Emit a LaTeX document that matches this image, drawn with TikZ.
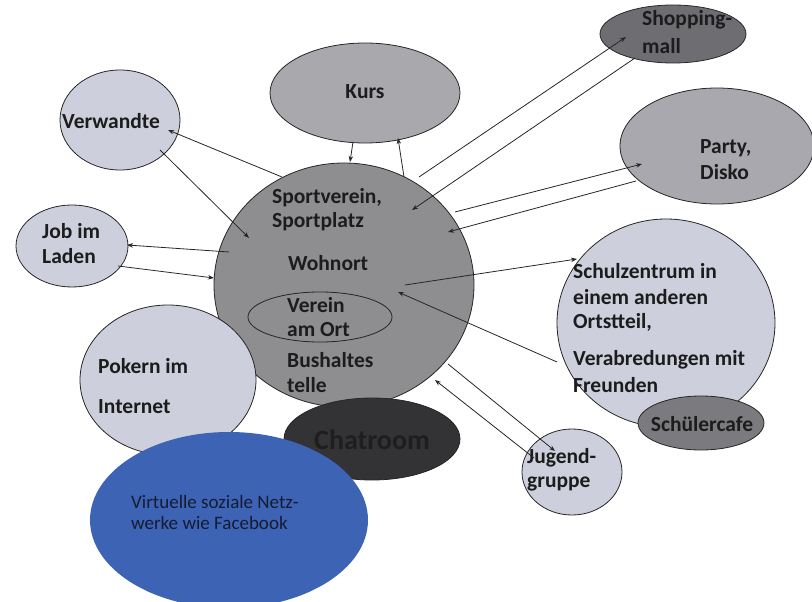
\documentclass[tikz,border=0pt]{standalone}
\usepackage{fontspec}
\setmainfont{Carlito}
\usetikzlibrary{shapes.geometric,arrows.meta}
\definecolor{lightc}{HTML}{CDD0DC}
\definecolor{mainc}{HTML}{8E8E90}
\definecolor{kursc}{HTML}{A9A9AD}
\definecolor{shopc}{HTML}{6E6E72}
\definecolor{partyc}{HTML}{A8A8AE}
\definecolor{cafec}{HTML}{7B7B7F}
\definecolor{chatc}{HTML}{333335}
\definecolor{chattext}{HTML}{1E1E1E}
\definecolor{bluec}{HTML}{3C63B4}
\definecolor{txt}{HTML}{1C1C1C}
\definecolor{navy}{HTML}{161B33}
\begin{document}
\begin{tikzpicture}[x=1pt,y=-1pt,
  blob/.style={ellipse,draw=black!85,line width=0.8pt,inner sep=0pt},
  lbl/.style={anchor=west,inner sep=0pt,text=txt,font=\fontsize{21.5}{24}\selectfont\bfseries},
  clbl/.style={anchor=center,inner sep=0pt,text=txt,font=\fontsize{21.5}{24}\selectfont\bfseries},
  arr/.style={-{Stealth[length=6pt,width=4.5pt]},line width=0.8pt,black!85}]
\useasboundingbox (0,0) rectangle (812,602);
% shapes
\node[blob,fill=kursc,minimum width=190pt,minimum height=100pt] (kurs) at (365,93) {};
\node[blob,fill=shopc,minimum width=146pt,minimum height=58pt] (shop) at (673,34) {};
\node[blob,fill=partyc,minimum width=194pt,minimum height=116pt] (party) at (717,146) {};
\node[blob,fill=lightc,minimum width=120pt,minimum height=100pt] (verw) at (120,120) {};
\node[blob,fill=lightc,minimum width=112pt,minimum height=82pt] (job) at (72,246) {};
\node[blob,fill=mainc,minimum width=260pt,minimum height=244pt] (main) at (344,285) {};
\node[blob,fill=lightc,minimum width=218pt,minimum height=208pt] (schul) at (666,323) {};
\node[blob,fill=cafec,minimum width=126pt,minimum height=54pt] (cafe) at (701,423) {};
\node[blob,fill=lightc,minimum width=100pt,minimum height=86pt] (jugend) at (572,472) {};
\node[blob,fill=lightc,minimum width=176pt,minimum height=150pt] (poker) at (168,380) {};
\node[blob,fill=chatc,minimum width=176pt,minimum height=82pt] (chat) at (372,439) {};
\node[ellipse,fill=bluec,minimum width=278pt,minimum height=176pt,inner sep=0pt] (virt) at (229,520) {};
\node[blob,minimum width=144pt,minimum height=50pt] (verein) at (320,317) {};
% texts
\node[clbl] (tkurs) at (365,92) {Kurs};
\node[lbl] (tshop1) at (642,20) {Shopping-};
\node[lbl] (tshop2) at (642,46) {mall};
\node[lbl] (tparty1) at (700,148) {Party,};
\node[lbl] (tparty2) at (700,172) {Disko};
\node[lbl] (tverw) at (62,121) {Verwandte};
\node[lbl] (tjob1) at (42,231) {Job im};
\node[lbl] (tjob2) at (42,256) {Laden};
\node[lbl] (tm1) at (272,198) {Sportverein,};
\node[lbl] (tm2) at (272,222) {Sportplatz};
\node[lbl] (tm3) at (288,263) {Wohnort};
\node[lbl] (tm4) at (287,305) {Verein};
\node[lbl] (tm5) at (287,330) {am Ort};
\node[lbl] (tm6) at (287,360) {Bushaltes};
\node[lbl] (tm7) at (287,385) {telle};
\node[lbl] (ts1) at (573,271) {Schulzentrum in};
\node[lbl] (ts2) at (573,297) {einem anderen};
\node[lbl] (ts3) at (573,322) {Ortstteil,};
\node[lbl] (ts4) at (573,360) {Verabredungen mit};
\node[lbl] (ts5) at (573,385) {Freunden};
\node[clbl] (tcafe) at (702,424) {Schülercafe};
\node[lbl] (tj1) at (527,458) {Jugend-};
\node[lbl] (tj2) at (527,484) {gruppe};
\node[lbl] (tp1) at (98,366) {Pokern im};
\node[lbl] (tp2) at (98,407) {Internet};
\node[anchor=center,inner sep=0pt,text=chattext,font=\fontsize{28}{30}\selectfont\bfseries] (tchat) at (372,440) {Chatroom};
\node[anchor=west,inner sep=0pt,text=navy,font=\fontsize{19}{21}\selectfont,align=left] (tvirt) at (131,512) {Virtuelle soziale Netz-\\werke wie Facebook};
% arrow end points
\coordinate (a1s) at (282,177); \coordinate (a1e) at (168,130);
\coordinate (a2s) at (160,150); \coordinate (a2e) at (249,238);
\coordinate (a3s) at (229,252); \coordinate (a3e) at (127,245);
\coordinate (a4s) at (118,266); \coordinate (a4e) at (214,278);
\coordinate (a5s) at (353,142); \coordinate (a5e) at (350,162);
\coordinate (a6s) at (404,177); \coordinate (a6e) at (398,138);
\coordinate (a7s) at (419,177); \coordinate (a7e) at (626,37);
\coordinate (a8s) at (635,58); \coordinate (a8e) at (412,210);
\coordinate (a9s) at (455,212); \coordinate (a9e) at (642,164);
\coordinate (a10s) at (636,181); \coordinate (a10e) at (448,232);
\coordinate (a11s) at (405,285); \coordinate (a11e) at (577,259);
\coordinate (a12s) at (557,362); \coordinate (a12e) at (398,292);
\coordinate (a13s) at (448,364); \coordinate (a13e) at (555,451);
\coordinate (a14s) at (534,458); \coordinate (a14e) at (435,380);
\draw[arr] (a1s) -- (a1e);
\draw[arr] (a2s) -- (a2e);
\draw[arr] (a3s) -- (a3e);
\draw[arr] (a4s) -- (a4e);
\draw[arr] (a5s) -- (a5e);
\draw[arr] (a6s) -- (a6e);
\draw[arr] (a7s) -- (a7e);
\draw[arr] (a8s) -- (a8e);
\draw[arr] (a9s) -- (a9e);
\draw[arr] (a10s) -- (a10e);
\draw[arr] (a11s) -- (a11e);
\draw[arr] (a12s) -- (a12e);
\draw[arr] (a13s) -- (a13e);
\draw[arr] (a14s) -- (a14e);
\end{tikzpicture}
\end{document}
